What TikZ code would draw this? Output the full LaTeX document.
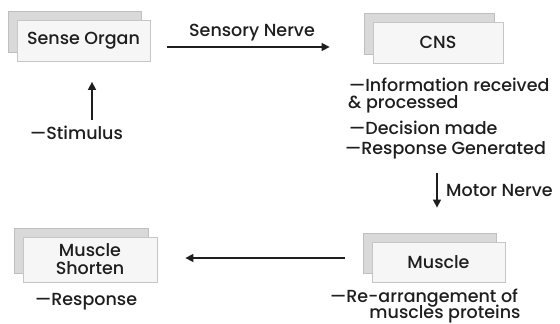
\documentclass[tikz,border=0pt]{standalone}
\usepackage{fontspec}
\setmainfont{Poppins Medium}
\usetikzlibrary{arrows.meta,shadows,calc}
\definecolor{ink}{HTML}{1E1E1E}
\begin{document}
\begin{tikzpicture}[x=1pt,y=-1pt,
  lbl/.style={inner sep=0pt, text=ink, font=\fontsize{17.5}{18}\selectfont},
  box/.style={draw=gray!45, fill=gray!7, line width=0.8pt, minimum width=133pt, minimum height=41pt,
    text=ink, font=\fontsize{17.5}{18}\selectfont, align=center,
    copy shadow={shadow xshift=-9pt, shadow yshift=9pt, fill=gray!30, draw=gray!50}},
  arr/.style={line width=1.5pt, draw=ink, -{Triangle[length=8pt,width=8pt]}}]
\useasboundingbox (0,0) rectangle (560,324);
\node[box] (sense) at (83.5,41) {Sense Organ};
\node[box, minimum width=130pt] (cns) at (438,42.5) {CNS};
\node[box, minimum height=40pt] (mus) at (438.5,262) {Muscle};
\node[box, minimum width=134pt, minimum height=45pt] (msh) at (90,259.5) {Muscle\\Shorten};
\node[lbl, anchor=west] (stim) at (30,133) {—Stimulus};
\node[lbl] (sn) at (252,33) {Sensory Nerve};
\node[lbl, anchor=west] (info) at (349,85) {—Information received};
\node[lbl, anchor=west] (proc) at (348,104) {\& processed};
\node[lbl, anchor=west] (dec) at (349,128) {—Decision made};
\node[lbl, anchor=west] (resp) at (345,150) {—Response Generated};
\node[lbl, anchor=west] (mn) at (446,190) {Motor Nerve};
\node[lbl, anchor=west] (rear) at (330,298) {—Re-arrangement of};
\node[lbl] (prot) at (445,314) {muscles proteins};
\node[lbl, anchor=west] (respo) at (35,302) {—Response};
% connectors
\coordinate (sb) at ([xshift=8.5pt]sense.south);
\coordinate (mt) at ([xshift=-1.5pt]mus.north);
\draw[arr, shorten <=6pt, shorten >=20pt] (sb |- stim.north) -- (sb);
\draw[arr, shorten <=17pt, shorten >=43pt] ([yshift=-6pt]sense.east) -- ([yshift=-4.5pt]cns.west);
\draw[arr, shorten <=14pt, shorten >=34pt] (mt |- resp.south) -- (mt);
\draw[arr, shorten <=27pt, shorten >=28pt] ([yshift=4pt]mus.west) -- ([yshift=1.5pt]msh.east);
\end{tikzpicture}
\end{document}
